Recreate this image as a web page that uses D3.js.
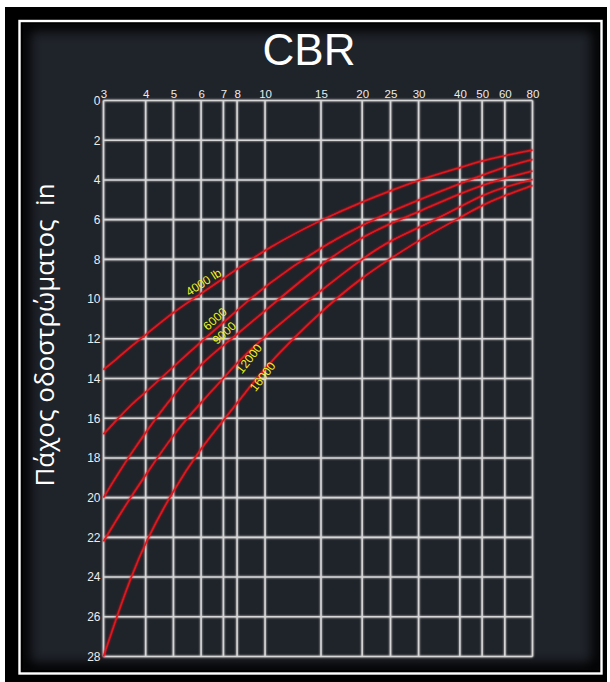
<!DOCTYPE html>
<html>
<head>
<meta charset="utf-8">
<script src="https://cdnjs.cloudflare.com/ajax/libs/d3/7.8.5/d3.min.js"></script>
<style>
  body { margin: 0; background: #ffffff; }
  svg { display: block; }
</style>
</head>
<body>
<svg id="drawing_region"></svg>
<script>
// CBR design curves: thickness (in) vs CBR for each wheel load
const cbrTicks = [3, 4, 5, 6, 7, 8, 10, 15, 20, 25, 30, 40, 50, 60, 80];
const thicknessTicks = [0, 2, 4, 6, 8, 10, 12, 14, 16, 18, 20, 22, 24, 26, 28];
const loadLabels = ["4000 lb", "6000", "9000", "12000", "16000"];

const cbrPoints = [3, 3.3, 3.6, 4, 5, 6, 7, 8, 10, 15, 20, 25, 30, 40, 50, 60, 80];
const t4000  = [13.55, 12.98, 12.42, 11.8, 10.65, 9.72, 8.95, 8.5, 7.5, 6.0, 5.1, 4.55, 4.0, 3.38, 3.04, 2.77, 2.5];
const t6000  = [16.8, 16.05, 15.35, 14.7, 13.4, 12.15, 11.17, 10.57, 9.33, 7.37, 6.28, 5.6, 5.02, 4.18, 3.76, 3.34, 2.97];
const t9000  = [20.0, 18.84, 17.85, 16.7, 14.81, 13.25, 12.33, 11.76, 10.6, 8.21, 6.87, 6.2, 5.6, 4.69, 4.27, 3.9, 3.55];
const t12000 = [22.2, 21.04, 20.02, 18.86, 16.8, 15.2, 14.0, 13.2, 11.85, 9.56, 7.96, 7.04, 6.42, 5.36, 4.77, 4.35, 3.98];
const t16000 = [28.0, 25.9, 24.1, 22.2, 19.6, 17.5, 16.1, 15.25, 13.4, 10.6, 8.9, 7.96, 7.04, 5.9, 5.27, 4.77, 4.28];

// where each curve label sits (CBR, thickness) and its tilt
const labelCbr = [6.1, 6.6, 7.05, 8.8, 9.8];
const labelT   = [9.15, 11.0, 11.7, 13.0, 13.9];
const labelAngle = [-33, -42, -42, -52, -52];

// the printed CBR grid is not an exact log grid: relative spot of each tick
const cbrTickSpot = [0, 0.0983, 0.163, 0.2275, 0.2795, 0.3114, 0.3766, 0.507, 0.603, 0.669, 0.7345, 0.8307, 0.8826, 0.9355, 1];

var config = {
    parent: '#drawing_region',
    width: 610,
    height: 682,
    margin: {top: 100.5, left: 103.5, right: 77.5, bottom: 25.5}
};

class CbrChart {

  constructor( config ) {
      this.config = config;
      this.series = [t4000, t6000, t9000, t12000, t16000];
      this.init();
  }

  init() {
      let self = this;

      self.svg = d3.select( self.config.parent )
          .attr('width', self.config.width)
          .attr('height', self.config.height);

      self.inner_width = self.config.width - self.config.margin.left - self.config.margin.right;
      self.inner_height = self.config.height - self.config.margin.top - self.config.margin.bottom;

      self.xscale = d3.scaleLog()
          .domain( cbrTicks )
          .range( cbrTickSpot.map( f => f * self.inner_width ) );

      self.yscale = d3.scaleLinear()
          .domain( [0, 28] )
          .range( [0, self.inner_height] );
  }

  drawFrame() {
      let self = this;
      const defs = self.svg.append('defs');

      const blur = defs.append('filter').attr('id', 'edge_blur')
          .attr('x', '-10%').attr('y', '-10%').attr('width', '120%').attr('height', '120%');
      blur.append('feGaussianBlur').attr('stdDeviation', 6);

      const glow = defs.append('filter').attr('id', 'glow')
          .attr('x', '-5%').attr('y', '-5%').attr('width', '110%').attr('height', '110%');
      glow.append('feGaussianBlur').attr('in', 'SourceGraphic').attr('stdDeviation', 0.8).attr('result', 'b');
      const merge = glow.append('feMerge');
      merge.append('feMergeNode').attr('in', 'b');
      merge.append('feMergeNode').attr('in', 'SourceGraphic');

      defs.append('clipPath').attr('id', 'panel_clip')
          .append('rect').attr('x', 23).attr('y', 24).attr('width', 576).attr('height', 646);

      // black outer frame with a thin white line
      self.svg.append('rect')
          .attr('x', 5).attr('y', 7).attr('width', 602).attr('height', 675)
          .attr('fill', '#000');
      self.svg.append('rect')
          .attr('x', 19.5).attr('y', 21).attr('width', 582).attr('height', 652.5)
          .attr('fill', 'none').attr('stroke', '#fff').attr('stroke-width', 2.4);

      // dark panel with darker edges
      self.svg.append('rect')
          .attr('x', 23).attr('y', 24).attr('width', 576).attr('height', 646)
          .attr('fill', '#1f232a');
      self.svg.append('rect')
          .attr('clip-path', 'url(#panel_clip)')
          .attr('x', 23).attr('y', 24).attr('width', 576).attr('height', 646)
          .attr('fill', 'none').attr('stroke', '#000').attr('stroke-width', 14)
          .attr('filter', 'url(#edge_blur)');
  }

  render() {
      let self = this;

      self.drawFrame();

      // title
      self.svg.append('text')
          .attr('x', 309).attr('y', 65)
          .attr('text-anchor', 'middle')
          .attr('font-family', '"Liberation Sans", Arial, sans-serif')
          .attr('font-size', 44)
          .attr('fill', '#ffffff')
          .text('CBR');

      // y axis title
      self.svg.append('text')
          .attr('transform', 'translate(54, 335) rotate(-90)')
          .attr('text-anchor', 'middle')
          .attr('font-family', '"Open Sans", "Liberation Sans", sans-serif')
          .attr('font-size', 26)
          .attr('fill', '#ffffff')
          .style('white-space', 'pre')
          .text('Πάχος οδοστρώματος  in');

      self.chart = self.svg.append('g')
          .attr('transform', `translate(${self.config.margin.left}, ${self.config.margin.top})`);

      const grid = self.chart.append('g').attr('filter', 'url(#glow)');

      grid.selectAll('.vline')
          .data( cbrTicks )
          .enter()
          .append('line')
          .attr('x1', d => self.xscale(d)).attr('x2', d => self.xscale(d))
          .attr('y1', 0).attr('y2', self.inner_height)
          .attr('stroke', '#d6d6d6').attr('stroke-width', 1.6);

      grid.selectAll('.hline')
          .data( thicknessTicks )
          .enter()
          .append('line')
          .attr('x1', 0).attr('x2', self.inner_width)
          .attr('y1', d => self.yscale(d)).attr('y2', d => self.yscale(d))
          .attr('stroke', '#d6d6d6').attr('stroke-width', 1.6);

      // tick labels
      const xaxis = d3.axisTop( self.xscale )
          .tickValues( cbrTicks )
          .tickFormat( d3.format('d') )
          .tickSize(0)
          .tickPadding(3);
      const xg = self.chart.append('g').call( xaxis );
      xg.select('.domain').remove();
      xg.selectAll('text')
          .attr('font-family', '"Liberation Sans", Arial, sans-serif')
          .attr('font-size', 11.5)
          .attr('fill', '#ececec');

      const yaxis = d3.axisLeft( self.yscale )
          .tickValues( thicknessTicks )
          .tickSize(0)
          .tickPadding(3);
      const yg = self.chart.append('g').call( yaxis );
      yg.select('.domain').remove();
      yg.selectAll('text')
          .attr('font-family', '"Liberation Sans", Arial, sans-serif')
          .attr('font-size', 12)
          .attr('fill', '#ececec');

      // curves
      const line = d3.line()
          .x( d => self.xscale(d[0]) )
          .y( d => self.yscale(d[1]) )
          .curve( d3.curveBasis );

      self.chart.selectAll('.curve')
          .data( self.series )
          .enter()
          .append('path')
          .attr('d', s => line( cbrPoints.map( (c, i) => [c, s[i]] ) ))
          .attr('fill', 'none')
          .attr('stroke', '#e3151d')
          .attr('stroke-width', 1.6)
          .attr('filter', 'url(#glow)');

      // curve labels
      self.chart.selectAll('.load')
          .data( loadLabels )
          .enter()
          .append('text')
          .attr('transform', (d, i) =>
              `translate(${self.xscale(labelCbr[i])}, ${self.yscale(labelT[i])}) rotate(${labelAngle[i]})`)
          .attr('text-anchor', 'middle')
          .attr('dy', '0.35em')
          .attr('font-family', '"Liberation Sans", Arial, sans-serif')
          .attr('font-size', 12)
          .attr('fill', '#f2f21e')
          .text( d => d );
  }
}

const cbr_chart = new CbrChart( config );
cbr_chart.render();
</script>
</body>
</html>
